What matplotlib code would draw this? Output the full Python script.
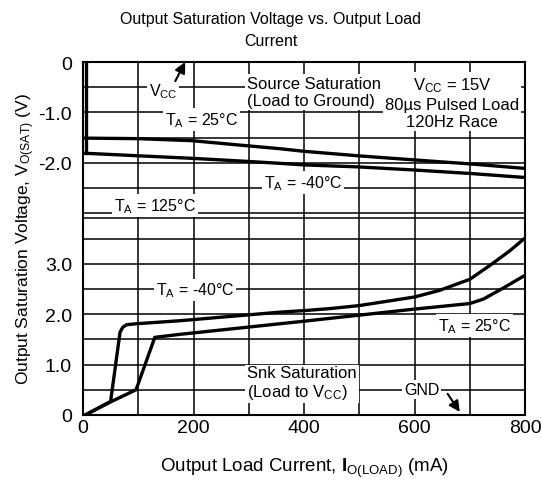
import matplotlib
matplotlib.use("Agg")
import matplotlib.pyplot as plt

plt.rcParams['font.family'] = ['Liberation Sans', 'DejaVu Sans']
plt.rcParams['mathtext.fontset'] = 'custom'
plt.rcParams['mathtext.rm'] = 'Liberation Sans'
plt.rcParams['mathtext.it'] = 'Liberation Sans:italic'
plt.rcParams['mathtext.bf'] = 'Liberation Sans:bold'

# Top panel (source saturation, V below 0) is drawn shifted up by TOP_OFFSET
TOP_OFFSET = 7.0

# Source saturation curves (load to ground), volts
src_x_upper = [5, 100, 197, 296, 357, 399, 498, 597, 700, 800]
src_v_upper = [-1.51, -1.52, -1.56, -1.66, -1.72, -1.77, -1.86, -1.94, -2.02, -2.11]
src_x_lower = [5, 100, 197, 296, 357, 399, 498, 597, 700, 800]
src_v_lower = [-1.81, -1.86, -1.91, -1.97, -2.01, -2.04, -2.08, -2.14, -2.21, -2.29]
src_x_vcc = [5, 5]
src_v_vcc = [0.0, -1.81]

# Sink saturation curves (load to Vcc), volts
snk_x_m40 = [4, 50, 67, 72, 79, 97, 176, 357, 400, 447, 500, 600, 645, 700, 737, 773, 800]
snk_v_m40 = [0.0, 0.27, 1.64, 1.74, 1.79, 1.81, 1.87, 2.04, 2.07, 2.11, 2.17, 2.34, 2.47, 2.69, 2.97, 3.26, 3.51]
snk_x_25 = [4, 50, 96, 130, 176, 400, 500, 600, 700, 725, 761, 800]
snk_v_25 = [0.0, 0.26, 0.50, 1.54, 1.60, 1.86, 1.98, 2.10, 2.21, 2.30, 2.52, 2.77]

x_ticks = [0, 200, 400, 600, 800]
y_tick_pos = [0, 1, 2, 3, 5, 6, 7]
y_tick_lbl = ['0', '1.0', '2.0', '3.0', '-2.0', '-1.0', '0']

fig = plt.figure(figsize=(5.42, 4.85), dpi=100)
ax = fig.add_axes([83 / 542, 69 / 485, 442 / 542, 353 / 485])
ax.set_xlim(0, 800)
ax.set_ylim(0, 7.0)

# grid
for gx in range(100, 800, 100):
    ax.axvline(gx, color='black', lw=1.1, zorder=1)
hlines = [0.5, 1.0, 1.5, 2.0, 2.5, 3.0, 3.5, 3.9, 4.0, 4.5, 5.0, 5.5, 6.0, 6.5]
for gy in hlines:
    ax.axhline(gy, color='black', lw=1.1, zorder=1)
for s in ax.spines.values():
    s.set_linewidth(1.5)

# curves
lw = 2.4
ax.plot(src_x_vcc, [v + TOP_OFFSET for v in src_v_vcc], color='black', lw=lw, zorder=3)
ax.plot(src_x_upper, [v + TOP_OFFSET for v in src_v_upper], color='black', lw=lw, zorder=3)
ax.plot(src_x_lower, [v + TOP_OFFSET for v in src_v_lower], color='black', lw=lw, zorder=3,
        solid_joinstyle='miter')
ax.plot(snk_x_m40, snk_v_m40, color='black', lw=lw, zorder=3)
ax.plot(snk_x_25, snk_v_25, color='black', lw=lw, zorder=3)

ax.set_xticks(x_ticks)
ax.set_xticklabels([str(t) for t in x_ticks])
ax.set_yticks(y_tick_pos)
ax.set_yticklabels(y_tick_lbl)
ax.tick_params(axis='both', length=0, labelsize=14)
ax.tick_params(axis='y', pad=8)
ax.tick_params(axis='x', pad=3)

ax.set_xlabel(r'Output Load Current, $\mathbf{I}_{\mathrm{O(LOAD)}}$ (mA)', fontsize=13.5, labelpad=14)
ax.set_ylabel(r'Output Saturation Voltage, $\mathrm{V_{O(SAT)}}$ (V)', fontsize=12.5)
ax.yaxis.set_label_coords(-0.105, 0.5)
fig.text(0.5, 0.975, 'Output Saturation Voltage vs. Output Load\nCurrent',
         ha='center', va='top', fontsize=11.5, linespacing=1.55)

box = dict(facecolor='white', edgecolor='none', pad=1.5)
fs = 11.5

def label(x, y, s, size=fs, **kw):
    ax.text(x, y, s, fontsize=size, bbox=box, zorder=4, **kw)

label(145, 6.43, r'$\mathrm{V_{CC}}$', ha='center', va='center')
ax.annotate('', xy=(185, 7.0), xytext=(167, 6.62),
            arrowprops=dict(arrowstyle='-|>', color='black', lw=1.5, mutation_scale=16,
                            shrinkA=0, shrinkB=0), zorder=5)
label(215, 5.86, r'$\mathrm{T_A}$ = 25°C', ha='center', va='center')
label(297, 6.41, 'Source Saturation\n(Load to Ground)', size=12, ha='left', va='center')
label(668, 6.2, r'$\mathrm{V_{CC}}$ = 15V' + '\n80µs Pulsed Load\n120Hz Race', size=12,
      ha='center', va='center', multialignment='center')
label(398, 4.61, r'$\mathrm{T_A}$ = -40°C', ha='center', va='center')
label(130, 4.15, r'$\mathrm{T_A}$ = 125°C', ha='center', va='center')
label(203, 2.48, r'$\mathrm{T_A}$ = -40°C', ha='center', va='center')
label(709, 1.77, r'$\mathrm{T_A}$ = 25°C', ha='center', va='center')
label(297, 0.635, 'Snk Saturation\n' + r'(Load to $\mathrm{V_{CC}}$)', size=12, ha='left', va='center')
label(613, 0.50, 'GND', ha='center', va='center')
ax.annotate('', xy=(682, 0.06), xytext=(660, 0.42),
            arrowprops=dict(arrowstyle='-|>', color='black', lw=1.5, mutation_scale=16,
                            shrinkA=0, shrinkB=0), zorder=5)

fig.savefig('out.png', dpi=100)
